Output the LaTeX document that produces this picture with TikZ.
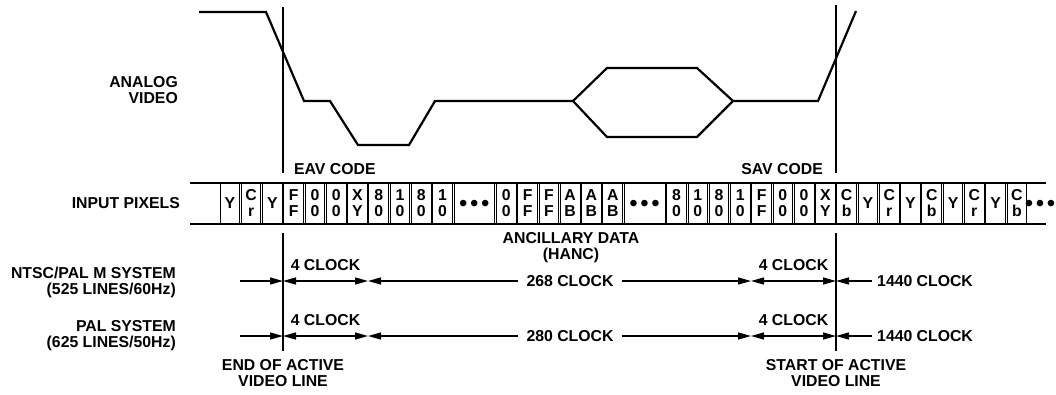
\documentclass[tikz,border=0pt]{standalone}
\usepackage{fontspec}
\setmainfont{Liberation Sans}
\usetikzlibrary{arrows.meta}
\begin{document}
\begin{tikzpicture}[x=1pt,y=-1pt,
  lbl/.style={font=\fontsize{15.8}{16}\selectfont\bfseries, inner sep=0pt, align=right, anchor=east},
  txt/.style={font=\fontsize{15.8}{16}\selectfont\bfseries, inner sep=0pt, align=center},
  dots/.style={font=\fontsize{24}{24}\selectfont, inner sep=0pt},
  cellbox/.style={draw, line width=0.9pt},
  rail/.style={line width=2pt},
  wave/.style={line width=2.2pt, line join=miter},
  marker/.style={line width=1.1pt},
  dim/.style={line width=1.4pt, -{Triangle[length=13pt,width=7pt]}},
  ddim/.style={line width=1.4pt, {Triangle[length=13pt,width=7pt]}-{Triangle[length=13pt,width=7pt]}},
]
\useasboundingbox (0,0) rectangle (1056,394);
\fill[white] (0,0) rectangle (1056,394);

% left labels
\node[lbl] (analog) at (178,90) {ANALOG\\VIDEO};
\node[lbl] (inpix) at (180,203) {INPUT PIXELS};
\node[lbl] (ntsc) at (176,282) {NTSC/PAL M SYSTEM\\(525 LINES/60Hz)};
\node[lbl] (pal) at (176,336) {PAL SYSTEM\\(625 LINES/50Hz)};

% analog waveform
\draw[wave] (199,12) -- (266,12) -- (304,101) -- (330,101) -- (358,145) -- (409,145)
  -- (435,101) -- (573,101) -- (607,68) -- (697,68) -- (733,101) -- (818,101) -- (856,11);
\draw[wave] (573,101) -- (607,137) -- (697,137) -- (733,101);

% EAV / SAV markers
\coordinate (eavT) at (283,7);   \coordinate (eavM) at (283,173);
\coordinate (eavL) at (283,233); \coordinate (eavB) at (283,351);
\coordinate (savT) at (836,5);   \coordinate (savM) at (836,173);
\coordinate (savL) at (836,233); \coordinate (savB) at (836,351);
\draw[marker] (eavT) -- (eavM);
\draw[marker] (eavL) -- (eavB);
\draw[marker] (savT) -- (savM);
\draw[marker] (savL) -- (savB);
\node[txt, anchor=west] (eav) at (294,169) {EAV CODE};
\node[txt, anchor=east] (sav) at (823,169) {SAV CODE};

% pixel row rails
\coordinate (rtl) at (190,182.5); \coordinate (rtr) at (1046,182.5);
\coordinate (rbl) at (190,224);   \coordinate (rbr) at (1046,224);
\draw[rail] (rtl) -- (rtr);
\draw[rail] (rbl) -- (rbr);

% cells
\foreach \i/\t in {0/Y, 1/{C\\r}, 2/Y, 3/{F\\F}, 4/{0\\0}, 5/{0\\0}, 6/{X\\Y}, 7/{8\\0}, 8/{1\\0}, 9/{8\\0}, 10/{1\\0},
  13/{0\\0}, 14/{F\\F}, 15/{F\\F}, 16/{A\\B}, 17/{A\\B}, 18/{A\\B},
  21/{8\\0}, 22/{1\\0}, 23/{8\\0}, 24/{1\\0}, 25/{F\\F}, 26/{0\\0}, 27/{0\\0}, 28/{X\\Y},
  29/{C\\b}, 30/Y, 31/{C\\r}, 32/Y, 33/{C\\b}, 34/Y, 35/{C\\r}, 36/Y, 37/{C\\b}} {
  \draw[cellbox] ({219.2+\i*21.27+0.8},183) rectangle ({219.2+(\i+1)*21.27-0.8},223.5);
  \node[txt] (c\i) at ({219.2+(\i+0.5)*21.27},203) {\t};
}
\foreach \i in {11,19} {
  \draw[cellbox] ({219.2+\i*21.27+0.8},183) rectangle ({219.2+(\i+2)*21.27-0.8},223.5);
  \node[dots] (d\i) at ({219.2+(\i+1)*21.27},206) {•\hspace{2.6pt}•\hspace{2.6pt}•};
}
\node[dots] (dend) at (1040,206) {•\hspace{2.6pt}•\hspace{2.6pt}•};

% ancillary label
\node[txt] (anc) at (571,248) {ANCILLARY DATA\\(HANC)};

% timing rows
\foreach \r/\y/\n in {a/281/268, b/336/280} {
  \coordinate (\r0) at (240,\y);
  \coordinate (\r1) at (283,\y);
  \coordinate (\r2) at (368,\y);
  \coordinate (\r3) at (751,\y);
  \coordinate (\r4) at (836,\y);
  \coordinate (\r5) at (872,\y);
  \draw[dim] (\r0) -- (\r1);
  \draw[ddim] (\r1) -- (\r2);
  \node[txt, inner xsep=8pt] (t\r) at (570,\y) {\n\ CLOCK};
  \draw[dim] (t\r.west) -- (\r2);
  \draw[dim] (t\r.east) -- (\r3);
  \draw[ddim] (\r3) -- (\r4);
  \draw[dim] (\r5) -- (\r4);
  \node[txt, anchor=west] (k\r) at (877,\y) {1440 CLOCK};
  \node[txt] (fa\r) at (325.5,\y-16) {4 CLOCK};
  \node[txt] (fb\r) at (793.5,\y-16) {4 CLOCK};
}

% bottom labels
\node[txt] (eol) at (283,373) {END OF ACTIVE\\VIDEO LINE};
\node[txt] (sol) at (836,373) {START OF ACTIVE\\VIDEO LINE};
\end{tikzpicture}
\end{document}
